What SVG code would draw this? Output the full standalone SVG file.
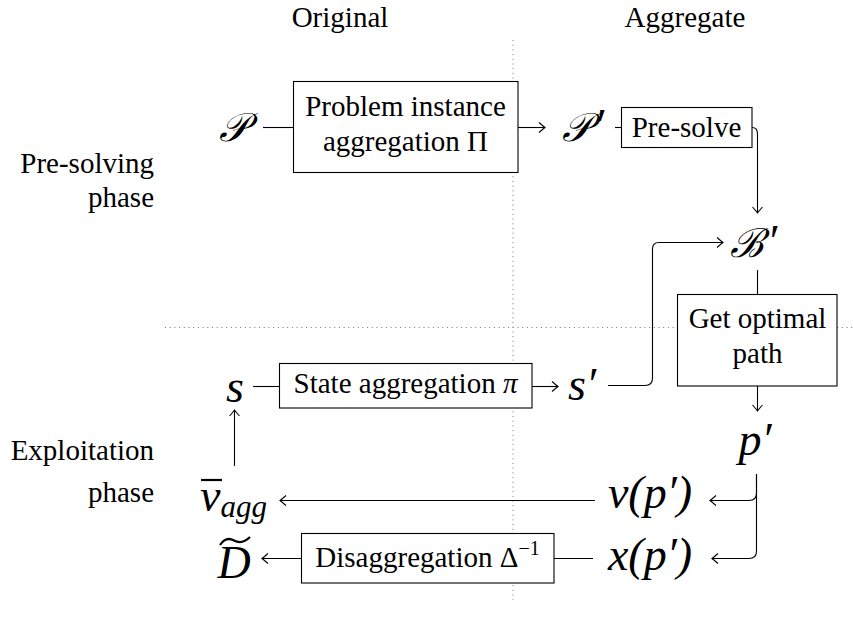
<svg xmlns="http://www.w3.org/2000/svg" width="853" height="617" viewBox="0 0 853 617">
<defs>
<marker id="arr" markerUnits="userSpaceOnUse" markerWidth="14" markerHeight="14" refX="0" refY="0" viewBox="-8 -7 10 14" orient="auto">
<path d="M-6,-5 Q-1.5,-1 0,0 Q-1.5,1 -6,5" fill="none" stroke="#000" stroke-width="1.1"/>
</marker>
<style>
.box{fill:#fff;stroke:#000;stroke-width:1.1}
.ln{fill:none;stroke:#000;stroke-width:1.1}
.ar{fill:none;stroke:#000;stroke-width:1.1;marker-end:url(#arr)}
.dot{fill:none;stroke:#777;stroke-width:1;stroke-dasharray:1 3.7}
.acc{fill:none;stroke:#000;stroke-width:2.2}
</style>
</defs>
<g id="guides">
<line class="dot" x1="513" y1="40" x2="513" y2="600"/>
<line class="dot" x1="165" y1="327.5" x2="853" y2="327.5"/>
</g>
<g id="labels" font-family="Liberation Serif" font-size="29">
<text x="340" y="27" text-anchor="middle">Original</text>
<text x="685" y="27" text-anchor="middle">Aggregate</text>
<text x="154" y="173" text-anchor="end">Pre-solving</text>
<text x="154" y="207" text-anchor="end">phase</text>
<text x="154" y="460" text-anchor="end">Exploitation</text>
<text x="154" y="502" text-anchor="end">phase</text>
</g>
<g id="connectors">
<line class="ln" x1="263" y1="127.5" x2="293" y2="127.5"/>
<line class="ar" x1="518" y1="127.5" x2="545" y2="127.5"/>
<line class="ln" x1="615" y1="127.5" x2="621" y2="127.5"/>
<path class="ar" d="M752,127.5 Q757.5,127.5 757.5,134 V213"/>
<path class="ar" d="M608,385.5 H645 Q652.5,385.5 652.5,378 V249 Q652.5,242.5 659,242.5 H723"/>
<line class="ln" x1="757.5" y1="270" x2="757.5" y2="294"/>
<line class="ar" x1="757.5" y1="386" x2="757.5" y2="411"/>
<line class="ln" x1="253" y1="386.5" x2="279" y2="386.5"/>
<line class="ar" x1="532" y1="386.5" x2="558" y2="386.5"/>
<path class="ar" d="M756.5,474 V493 Q756.5,500.5 749,500.5 H710"/>
<path class="ar" d="M756.5,474 V551 Q756.5,558.5 749,558.5 H712"/>
<line class="ar" x1="595" y1="500.5" x2="280" y2="500.5"/>
<line class="ln" x1="554" y1="558.5" x2="593" y2="558.5"/>
<line class="ar" x1="301" y1="558.5" x2="262" y2="558.5"/>
<line class="ar" x1="234.5" y1="466" x2="234.5" y2="410"/>
</g>
<g font-family="Liberation Serif" font-size="29">
<g id="n-P"><text font-style="italic" font-size="40" x="233" y="141" text-anchor="middle">&#x1D4AB;</text></g>
<g id="n-Pi">
<rect class="box" x="293.5" y="81.5" width="224.5" height="91"/>
<text x="405.5" y="116" text-anchor="middle">Problem instance</text>
<text x="405.5" y="151" text-anchor="middle">aggregation &#928;</text>
</g>
<g id="n-Pp"><text font-style="italic" font-size="40" x="562" y="141">&#x1D4AB;<tspan font-size="46" dx="3">&#8242;</tspan></text></g>
<g id="n-presolve">
<rect class="box" x="621.5" y="107.5" width="130.5" height="40"/>
<text x="686.5" y="137" text-anchor="middle">Pre-solve</text>
</g>
<g id="n-Bp"><text font-style="italic" font-size="40" x="730" y="257">&#8492;<tspan font-size="46" dx="3">&#8242;</tspan></text></g>
<g id="n-opt">
<rect class="box" x="677.5" y="294.5" width="159.5" height="91.5"/>
<text x="757.5" y="328" text-anchor="middle">Get optimal</text>
<text x="757.5" y="363" text-anchor="middle">path</text>
</g>
<g id="n-s"><text font-style="italic" font-size="46" x="235" y="402" text-anchor="middle">s</text></g>
<g id="n-pi">
<rect class="box" x="279.5" y="363.5" width="252.5" height="44.5"/>
<text x="405.5" y="393" text-anchor="middle">State aggregation <tspan font-style="italic">&#960;</tspan></text>
</g>
<g id="n-sp"><text font-style="italic" font-size="46" x="582" y="400" text-anchor="middle">s&#8242;</text></g>
<g id="n-pp"><text font-style="italic" font-size="46" x="755" y="455" text-anchor="middle">p&#8242;</text></g>
<g id="n-vp"><text font-style="italic" font-size="46" x="650" y="508" text-anchor="middle">v(p&#8242;)</text></g>
<g id="n-xp"><text font-style="italic" font-size="46" x="650" y="570" text-anchor="middle">x(p&#8242;)</text></g>
<g id="n-vagg">
<line class="acc" x1="201" y1="480" x2="222" y2="480"/>
<text font-style="italic" font-size="46" x="200" y="511">v<tspan font-size="31" dy="6">agg</tspan></text>
</g>
<g id="n-D">
<path class="acc" d="M220,545 Q226,536 234,540.5 Q242,545 250,537"/>
<text font-style="italic" font-size="46" x="234" y="578" text-anchor="middle">D</text>
</g>
<g id="n-dis">
<rect class="box" x="301.5" y="533.5" width="252.5" height="49.5"/>
<text x="427.5" y="567" text-anchor="middle">Disaggregation &#916;<tspan font-size="20" dy="-12">&#8722;1</tspan></text>
</g>
</g>
</svg>
